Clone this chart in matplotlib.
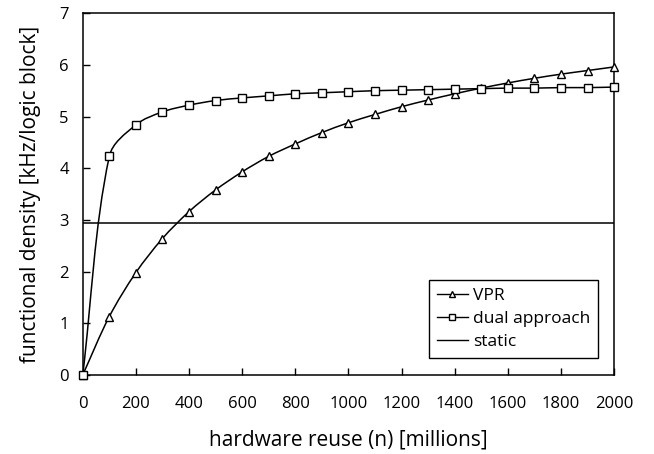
import numpy as np
import matplotlib.pyplot as plt
from matplotlib.path import Path
from matplotlib.patches import PathPatch
from matplotlib.lines import Line2D

plt.rcParams['font.family'] = ['Open Sans', 'DejaVu Sans']

# hardware reuse (millions)
reuse = [0, 100, 200, 300, 400, 500, 600, 700, 800, 900, 1000,
         1100, 1200, 1300, 1400, 1500, 1600, 1700, 1800, 1900, 2000]
vpr = [0, 1.13, 1.98, 2.64, 3.16, 3.58, 3.93, 4.23, 4.47, 4.69, 4.88,
       5.04, 5.19, 5.32, 5.44, 5.55, 5.65, 5.74, 5.82, 5.89, 5.96]
dual = [0, 4.23, 4.84, 5.09, 5.22, 5.31, 5.36, 5.40, 5.44, 5.46, 5.48,
        5.50, 5.51, 5.52, 5.53, 5.54, 5.55, 5.55, 5.56, 5.56, 5.57]
static = 2.94

XMAX, YMAX = 2000, 7
# rough axes size in pixels, used so the smoothing is done in screen proportions
AX_W, AX_H = 531.0, 362.0


def smooth_path(xs, ys):
    # smoothed line like a spreadsheet chart: cubic bezier through every point
    p = np.column_stack([np.asarray(xs) / XMAX * AX_W, np.asarray(ys) / YMAX * AX_H])
    n = len(p)
    tang = []
    for i in range(n):
        a = p[max(i - 1, 0)]
        b = p[min(i + 1, n - 1)]
        d = b - a
        tang.append(d / np.hypot(*d))
    verts = [p[0]]
    codes = [Path.MOVETO]
    for i in range(n - 1):
        seg = np.hypot(*(p[i + 1] - p[i])) / 3
        verts += [p[i] + tang[i] * seg, p[i + 1] - tang[i + 1] * seg, p[i + 1]]
        codes += [Path.CURVE4] * 3
    v = np.array(verts)
    v[:, 0] = v[:, 0] / AX_W * XMAX
    v[:, 1] = v[:, 1] / AX_H * YMAX
    return Path(v, codes)


fig, ax = plt.subplots(figsize=(6.54, 4.54), dpi=100)
fig.subplots_adjust(left=0.1265, right=0.939, top=0.971, bottom=0.174)

for ys in (vpr, dual):
    ax.add_patch(PathPatch(smooth_path(reuse, ys), fill=False, lw=1.1, ec='black', zorder=2))

ax.axhline(static, color='black', lw=1.1, zorder=2)
ax.plot(reuse, vpr, ls='none', marker='^', ms=5.5, mfc='white', mec='black', mew=1.0,
        zorder=3, clip_on=False)
ax.plot(reuse, dual, ls='none', marker='s', ms=5.5, mfc='white', mec='black', mew=1.0,
        zorder=3, clip_on=False)

ax.set_xlim(0, XMAX)
ax.set_ylim(0, YMAX)
ax.set_xticks(np.arange(0, 2001, 200))
ax.set_yticks(np.arange(0, 8, 1))
ax.tick_params(direction='in', length=5, width=1, labelsize=12)
ax.tick_params(axis='x', pad=15)
ax.tick_params(axis='y', pad=10)
for s in ax.spines.values():
    s.set_linewidth(1.1)

ax.set_xlabel('hardware reuse (n) [millions]', fontsize=15, labelpad=13)
ax.set_ylabel('functional density [kHz/logic block]', fontsize=15, labelpad=13)

handles = [
    Line2D([], [], color='black', lw=1, marker='^', ms=4.5, mfc='white', mec='black'),
    Line2D([], [], color='black', lw=1, marker='s', ms=4.5, mfc='white', mec='black'),
    Line2D([], [], color='black', lw=1),
]
leg = ax.legend(handles, ['VPR', 'dual approach', 'static'], loc='lower right',
                bbox_to_anchor=(0.97, 0.047), fontsize=12.5, fancybox=False,
                edgecolor='black', framealpha=1, handlelength=1.8, handletextpad=0.3,
                borderpad=0.45, labelspacing=0.4, borderaxespad=0)
leg.get_frame().set_linewidth(1.0)

fig.savefig('out.png')
